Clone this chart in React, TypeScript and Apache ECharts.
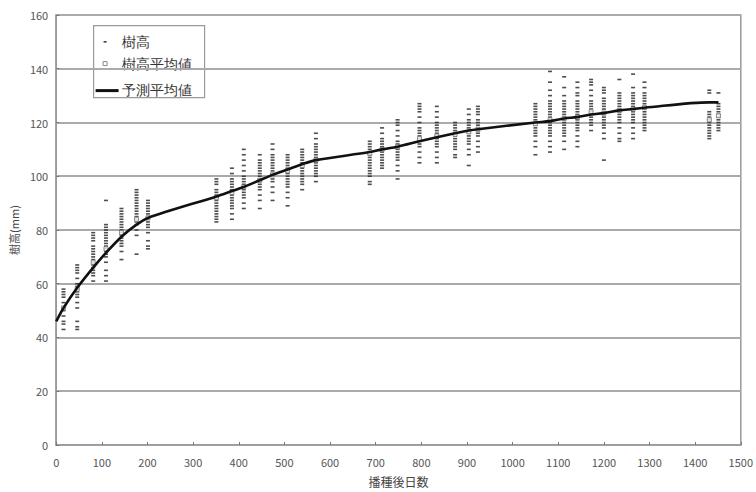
import React, { useEffect, useRef } from "react";
import * as echarts from "echarts";

// Survey days (x) of each measurement cluster
const surveyDays = [
  16, 46, 81, 109, 143, 176, 201,
  351, 385, 411, 446, 474, 507, 539, 569,
  687, 714, 748, 796, 834, 874, 904, 924,
  1050, 1082, 1113, 1142, 1172, 1200, 1234, 1264, 1289,
  1431, 1451,
];

// Individual tree heights (mm) per survey day
const heights: number[][] = [
  [58, 57, 56, 55, 53, 51, 50, 48, 46, 45, 43],
  [67, 66, 65, 64, 62, 60, 59, 58, 57, 56, 55, 53, 51, 46, 44, 43],
  [79, 78, 77, 76, 74, 73, 72, 71, 70, 69, 68, 67, 66, 65, 64, 63, 61],
  [91, 82, 81, 80, 79, 78, 77, 76, 75, 74, 73, 72, 71, 70, 68, 65, 63, 61],
  [88, 87, 86, 85, 84, 83, 82, 81, 80, 79, 78, 77, 76, 75, 74, 72, 69],
  [95, 94, 93, 92, 91, 90, 89, 88, 87, 86, 85, 84, 83, 82, 80, 78, 71],
  [91, 90, 89, 88, 87, 86, 85, 84, 83, 82, 81, 79, 76, 74, 73],
  [99, 98, 97, 95, 94, 93, 92, 91, 90, 89, 88, 87, 86, 85, 84, 83],
  [103, 101, 99, 98, 97, 96, 95, 94, 93, 92, 91, 90, 89, 88, 86, 84],
  [110, 108, 106, 104, 102, 100, 99, 98, 97, 96, 95, 94, 93, 92, 90, 88],
  [108, 106, 105, 104, 103, 102, 101, 100, 99, 98, 97, 96, 95, 93, 91, 88],
  [112, 110, 108, 107, 106, 105, 104, 103, 102, 101, 100, 99, 98, 96, 94, 91],
  [108, 107, 106, 105, 104, 103, 102, 101, 100, 99, 98, 97, 96, 94, 92, 89],
  [110, 109, 108, 107, 106, 105, 104, 103, 102, 101, 100, 99, 98, 97, 95],
  [116, 114, 112, 111, 110, 109, 108, 107, 106, 105, 104, 103, 102, 101, 100, 98],
  [113, 112, 111, 110, 109, 108, 107, 106, 105, 104, 103, 102, 101, 100, 98, 97],
  [118, 116, 114, 113, 112, 111, 110, 109, 108, 107, 106, 105, 104, 103],
  [121, 120, 119, 117, 115, 113, 112, 111, 110, 109, 108, 107, 106, 104, 102, 99],
  [127, 126, 125, 124, 122, 120, 118, 117, 116, 115, 114, 113, 112, 111, 109, 107, 105],
  [126, 124, 122, 120, 119, 118, 117, 116, 115, 114, 113, 112, 111, 109, 107, 105],
  [120, 119, 118, 117, 116, 115, 114, 113, 112, 111, 110, 108, 107],
  [125, 123, 121, 120, 119, 118, 117, 116, 115, 114, 113, 112, 110, 108, 104],
  [126, 125, 124, 123, 121, 120, 119, 118, 117, 116, 115, 113, 111, 109],
  [127, 126, 125, 124, 123, 122, 121, 120, 119, 118, 117, 116, 115, 113, 111, 108],
  [139, 135, 132, 130, 128, 127, 126, 125, 124, 123, 122, 121, 120, 119, 118, 117, 116, 115, 113, 111, 109],
  [137, 133, 130, 128, 127, 126, 125, 124, 123, 122, 121, 120, 119, 118, 117, 116, 115, 113, 110],
  [135, 133, 131, 130, 128, 127, 126, 125, 124, 123, 122, 121, 120, 119, 118, 117, 115, 113, 111],
  [136, 135, 134, 132, 130, 128, 127, 126, 125, 124, 123, 122, 121, 120, 119, 117],
  [133, 132, 131, 129, 128, 127, 126, 125, 124, 123, 122, 121, 120, 119, 118, 116, 114, 106],
  [136, 131, 130, 129, 128, 127, 126, 125, 124, 123, 122, 121, 120, 118, 116, 114, 113],
  [138, 133, 131, 130, 129, 128, 127, 126, 125, 124, 123, 122, 121, 120, 118, 116, 114],
  [135, 133, 131, 130, 129, 128, 127, 126, 125, 124, 123, 122, 121, 120, 119, 118, 117],
  [132, 131, 124, 123, 122, 121, 120, 119, 118, 117, 116, 115, 114],
  [131, 127, 126, 125, 124, 123, 122, 121, 120, 119, 118, 117],
];

// Mean tree height per survey day (mm)
const meanHeights = [
  51, 58, 68, 73, 79, 84, 84.5,
  92, 94, 96, 98.5, 100.5, 102, 104, 106,
  108.5, 110, 111, 114, 115, 115.5, 116.5, 117.5,
  119.5, 121, 121.5, 122, 124, 123.5, 124.5, 125, 125.5,
  121, 122.5,
];

// Predicted mean curve
const predDays = [
  0, 16, 46, 81, 109, 143, 176, 201,
  351, 385, 411, 446, 474, 507, 539, 569,
  687, 714, 748, 796, 834, 874, 904, 924,
  1050, 1082, 1113, 1142, 1172, 1200, 1234, 1264, 1289,
  1431, 1451,
];
const predHeights = [
  46, 51, 58.5, 66, 71.5, 77.5, 82, 84.5,
  92.5, 94.5, 96, 98.5, 100.5, 102.5, 104.5, 106,
  109, 110, 111, 113, 114.5, 116, 117, 117.5,
  120, 120.5, 121.5, 122, 123, 123.5, 124.5, 125, 125.5,
  127.5, 127.5,
];

const yTicks = { min: 0, max: 160, interval: 20 };
const xTicks = { min: 0, max: 1500, interval: 100 };

const labels = {
  points: "樹高",
  mean: "樹高平均値",
  pred: "予測平均値",
  xName: "播種後日数",
  yName: "樹高(mm)",
};

const FONT = "'Noto Sans CJK JP', 'Noto Sans', sans-serif";

export default function App() {
  const ref = useRef<HTMLDivElement>(null);

  useEffect(() => {
    if (!ref.current) return;
    const chart = echarts.init(ref.current, null, { renderer: "svg" });

    const pointData: number[][] = [];
    surveyDays.forEach((d, i) => {
      heights[i].forEach((h) => pointData.push([d, h]));
    });
    const meanData = surveyDays.map((d, i) => [d, meanHeights[i]]);
    const predData = predDays.map((d, i) => [d, predHeights[i]]);

    chart.setOption({
      animation: false,
      backgroundColor: "#fff",
      textStyle: { fontFamily: FONT },
      grid: {
        left: 51,
        right: 11,
        top: 15,
        bottom: 44,
        show: true,
        borderColor: "#9a9a9a",
        borderWidth: 1.5,
        backgroundColor: "transparent",
      },
      xAxis: {
        type: "value",
        min: xTicks.min,
        max: xTicks.max,
        interval: xTicks.interval,
        name: labels.xName,
        nameLocation: "middle",
        nameGap: 30,
        nameTextStyle: { fontSize: 12, color: "#444", fontFamily: FONT },
        axisLine: { lineStyle: { color: "#9a9a9a", width: 1.5 } },
        axisTick: { inside: true, length: 3, lineStyle: { color: "#777" } },
        splitLine: { show: false },
        axisLabel: {
          fontSize: 11,
          color: "#555",
          margin: 12,
          fontFamily: FONT,
          formatter: (v: number) => String(v),
        },
      },
      yAxis: {
        type: "value",
        min: yTicks.min,
        max: yTicks.max,
        interval: yTicks.interval,
        name: labels.yName,
        nameLocation: "middle",
        nameGap: 34,
        nameTextStyle: { fontSize: 11, color: "#444", fontFamily: FONT },
        axisLine: { show: true, lineStyle: { color: "#9a9a9a", width: 1.5 } },
        axisTick: { show: true, inside: true, length: 3, lineStyle: { color: "#777" } },
        splitLine: { lineStyle: { color: "#aaa", width: 2 } },
        axisLabel: { fontSize: 11, color: "#555", margin: 8, fontFamily: FONT },
      },
      series: [
        {
          name: labels.points,
          type: "scatter",
          data: pointData,
          symbol: "rect",
          symbolSize: [4, 1.6],
          itemStyle: { color: "#222" },
          z: 2,
        },
        {
          name: labels.mean,
          type: "scatter",
          data: meanData,
          symbol: "rect",
          symbolSize: 4,
          itemStyle: { color: "#fff", borderColor: "#777", borderWidth: 1 },
          z: 3,
        },
        {
          name: labels.pred,
          type: "line",
          data: predData,
          showSymbol: false,
          symbol: "none",
          smooth: 0.3,
          lineStyle: { color: "#111", width: 2.6 },
          z: 4,
        },
      ],
      graphic: [
        {
          type: "group",
          left: 93,
          top: 25,
          z: 10,
          children: [
            {
              type: "rect",
              shape: { x: 0, y: 0, width: 111, height: 72 },
              style: { fill: "#fff", stroke: "#9a9a9a", lineWidth: 1.2 },
            },
            {
              type: "rect",
              shape: { x: 10, y: 15.5, width: 3, height: 1.5 },
              style: { fill: "#333" },
            },
            {
              type: "rect",
              shape: { x: 9.5, y: 36, width: 4, height: 4 },
              style: { fill: "#fff", stroke: "#888", lineWidth: 1 },
            },
            {
              type: "line",
              shape: { x1: 2, y1: 65, x2: 25, y2: 65 },
              style: { stroke: "#111", lineWidth: 3 },
            },
            {
              type: "text",
              x: 28,
              y: 16,
              style: { text: labels.points, fontSize: 14, fill: "#333", font: `14px ${FONT}`, verticalAlign: "middle" },
            },
            {
              type: "text",
              x: 28,
              y: 38,
              style: { text: labels.mean, fontSize: 14, fill: "#333", font: `14px ${FONT}`, verticalAlign: "middle" },
            },
            {
              type: "text",
              x: 28,
              y: 64,
              style: { text: labels.pred, fontSize: 14, fill: "#333", font: `14px ${FONT}`, verticalAlign: "middle" },
            },
          ],
        },
      ],
    });

    return () => chart.dispose();
  }, []);

  return (
    <div
      ref={ref}
      style={{ position: "fixed", left: 0, top: 0, width: 756, height: 492, background: "#fff" }}
    />
  );
}
